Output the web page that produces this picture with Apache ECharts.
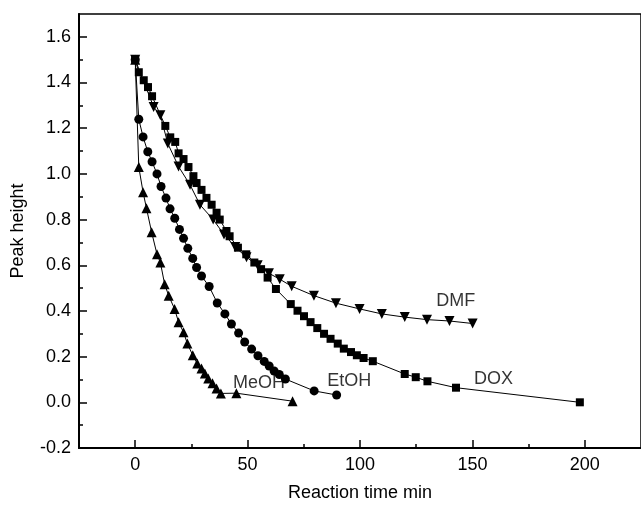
<!DOCTYPE html>
<html>
<head>
<meta charset="utf-8">
<script src="https://cdn.jsdelivr.net/npm/echarts@6/dist/echarts.min.js"></script>
<style>html,body{margin:0;padding:0;background:#fff}#c{width:641px;height:507px}</style>
</head>
<body>
<div id="c"></div>
<script>
// ---- data ----
const meohX = [0, 1.6, 3.5, 5, 7.3, 9.7, 11.2, 13.1, 14.9, 17.5, 19.3, 21.5, 23.2, 25.6, 27.6, 29.5, 31, 32.5, 34.4, 36.2, 38.1, 45, 70];
const meohY = [1.5, 1.03, 0.92, 0.85, 0.745, 0.648, 0.612, 0.517, 0.467, 0.409, 0.351, 0.307, 0.257, 0.206, 0.17, 0.148, 0.126, 0.104, 0.083, 0.061, 0.039, 0.04, 0.005];

const etohX = [0, 1.6, 3.5, 5.6, 7.5, 9.7, 11.5, 13.7, 15.5, 17.6, 19.7, 21.5, 23.4, 25.6, 27.3, 29.5, 32.9, 36.5, 39.9, 42.8, 46, 48.7, 51.8, 54.6, 57.4, 59.6, 61.8, 64.1, 66.8, 79.6, 89.6];
const etohY = [1.5, 1.239, 1.162, 1.097, 1.053, 1.0, 0.945, 0.894, 0.847, 0.806, 0.757, 0.718, 0.674, 0.63, 0.59, 0.553, 0.507, 0.435, 0.387, 0.343, 0.303, 0.264, 0.233, 0.204, 0.179, 0.159, 0.137, 0.122, 0.102, 0.05, 0.032];

const doxX = [0, 1.6, 3.8, 5.7, 7.5, 13.4, 15.6, 17.8, 19.3, 21.5, 23.7, 25.9, 27.3, 29.5, 31.7, 34, 36.2, 37.6, 40.6, 42, 45.7, 49.4, 53, 56, 58.9, 62.6, 69.2, 72.2, 75.1, 78, 81, 84, 86.9, 90.1, 92.8, 96, 98.6, 101.6, 105.7, 119.9, 124.8, 130, 142.7, 197.8];
const doxY = [1.5, 1.445, 1.41, 1.38, 1.34, 1.21, 1.16, 1.14, 1.09, 1.065, 1.03, 0.99, 0.96, 0.93, 0.895, 0.865, 0.83, 0.8, 0.75, 0.727, 0.677, 0.648, 0.612, 0.583, 0.546, 0.496, 0.43, 0.401, 0.377, 0.351, 0.325, 0.3, 0.278, 0.257, 0.235, 0.22, 0.206, 0.194, 0.18, 0.124, 0.11, 0.092, 0.064, 0.0];

const dmfX = [0, 8.2, 11.2, 14.5, 19.3, 24.4, 28.8, 34.7, 39.5, 44.5, 49.5, 54.5, 59.5, 64.3, 69.6, 79.5, 89.3, 99.8, 109.7, 119.9, 129.8, 139.8, 150.1];
const dmfY = [1.5, 1.293, 1.257, 1.133, 1.032, 0.952, 0.865, 0.8, 0.735, 0.68, 0.635, 0.6, 0.565, 0.539, 0.508, 0.467, 0.434, 0.409, 0.387, 0.373, 0.362, 0.356, 0.345];

const labelNames = ['MeOH', 'EtOH', 'DMF', 'DOX'];
const labelX = [43.5, 85.4, 133.9, 150.7];
const labelY = [0.083, 0.091, 0.445, 0.104];

const xMajorTicks = [0, 50, 100, 150, 200];
const xMinorTicks = [25, 75, 125, 175];
const yMajorTicks = [-0.2, 0, 0.2, 0.4, 0.6, 0.8, 1.0, 1.2, 1.4, 1.6];
const yMinorTicks = [-0.1, 0.1, 0.3, 0.5, 0.7, 0.9, 1.1, 1.3, 1.5];

const xTitle = 'Reaction time min';
const yTitle = 'Peak height';

// ---- chart ----
const zip = (xs, ys) => xs.map((x, i) => [x, ys[i]]);
const FONT = '"Liberation Sans", Arial, sans-serif';
const lineSeries = (name, xs, ys, symbol, size, rotate) => ({
  name, type: 'line', data: zip(xs, ys), symbol, symbolSize: size, symbolRotate: rotate || 0,
  lineStyle: { color: '#000', width: 1 }, itemStyle: { color: '#000' }, showSymbol: true, animation: false
});

const chart = echarts.init(document.getElementById('c'), null, { renderer: 'canvas' });
const baseX = { type: 'value', min: -25, max: 225, interval: 25, splitLine: { show: false } };
const baseY = { type: 'value', min: -0.2, max: 1.7, interval: 0.1, splitLine: { show: false } };
chart.setOption({
  backgroundColor: '#fff',
  animation: false,
  grid: { left: 79, top: 14, right: -6, bottom: 58, show: true, borderColor: '#000', borderWidth: 1.5, backgroundColor: 'transparent' },
  xAxis: [
    Object.assign({}, baseX, {
      name: xTitle, nameLocation: 'middle', nameGap: 36,
      nameTextStyle: { color: '#000', fontSize: 18, fontFamily: FONT },
      axisLine: { show: true, onZero: false, lineStyle: { color: '#000', width: 2 } },
      axisTick: { show: true, inside: true, length: 8, lineStyle: { color: '#000', width: 1.5 }, customValues: xMajorTicks },
      axisLabel: { color: '#000', fontSize: 18, fontFamily: FONT, margin: 8, customValues: xMajorTicks }
    }),
    Object.assign({}, baseX, {
      position: 'bottom', axisLine: { show: false, onZero: false },
      axisTick: { show: true, inside: true, length: 4, lineStyle: { color: '#000', width: 1.5 }, customValues: xMinorTicks },
      axisLabel: { show: false }
    })
  ],
  yAxis: [
    Object.assign({}, baseY, {
      name: yTitle, nameLocation: 'middle', nameGap: 52,
      nameTextStyle: { color: '#000', fontSize: 18, fontFamily: FONT },
      axisLine: { show: true, onZero: false, lineStyle: { color: '#000', width: 2 } },
      axisTick: { show: true, inside: true, length: 8, lineStyle: { color: '#000', width: 1.5 }, customValues: yMajorTicks },
      axisLabel: { color: '#000', fontSize: 18, fontFamily: FONT, margin: 8, customValues: yMajorTicks, formatter: v => v.toFixed(1) }
    }),
    Object.assign({}, baseY, {
      position: 'left', axisLine: { show: false, onZero: false },
      axisTick: { show: true, inside: true, length: 4, lineStyle: { color: '#000', width: 1.5 }, customValues: yMinorTicks },
      axisLabel: { show: false }
    })
  ],
  series: [
    lineSeries('MeOH', meohX, meohY, 'triangle', 10),
    lineSeries('EtOH', etohX, etohY, 'circle', 9),
    lineSeries('DOX', doxX, doxY, 'rect', 8),
    lineSeries('DMF', dmfX, dmfY, 'triangle', 10, 180),
    {
      type: 'scatter', symbolSize: 0, silent: true,
      data: labelNames.map((n, i) => ({ name: n, value: [labelX[i], labelY[i]] })),
      label: { show: true, position: 'inside', align: 'left', verticalAlign: 'middle', formatter: p => p.name, color: '#000', fontSize: 18, fontFamily: FONT }
    }
  ]
});
</script>
</body>
</html>
